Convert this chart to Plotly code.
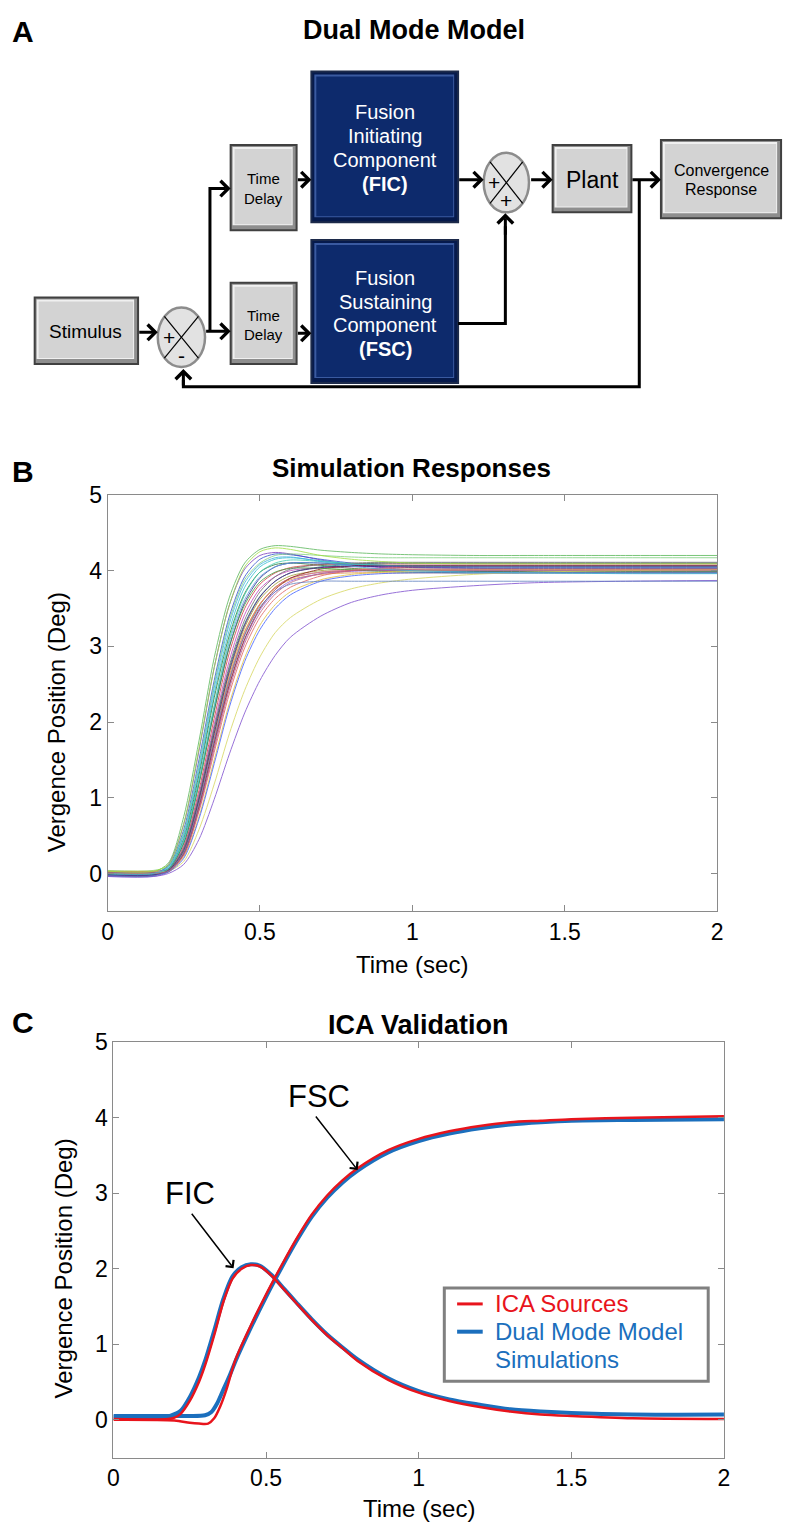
import plotly.graph_objects as go

# The page body has an 8px default margin, so the figure is sized to fill the window after it.
OFF = 8
W, H = 792 - OFF, 1527 - OFF
FONT = "Liberation Sans, Arial, Helvetica, sans-serif"

# ---------------- Panel B data: simulation responses ----------------
B_TIME = [0, 0.15, 0.2, 0.25, 0.3, 0.35, 0.4, 0.45, 0.5, 0.55, 0.6, 0.7, 0.8, 0.9, 1.0, 1.2, 1.4, 1.7, 2.0]
B_C01 = [0.02, 0.02, 0.14, 0.75, 1.75, 2.85, 3.65, 4.10, 4.28, 4.33, 4.32, 4.27, 4.24, 4.22, 4.21, 4.20, 4.20, 4.20, 4.20]
B_C02 = [-0.02, -0.02, 0.12, 0.65, 1.62, 2.72, 3.55, 4.02, 4.20, 4.24, 4.22, 4.14, 4.08, 4.04, 4.01, 3.99, 3.98, 3.98, 3.98]
B_C03 = [0.00, 0.00, 0.10, 0.58, 1.50, 2.55, 3.40, 3.92, 4.15, 4.22, 4.21, 4.15, 4.10, 4.07, 4.05, 4.04, 4.04, 4.04, 4.04]
B_C04 = [0.01, 0.01, 0.09, 0.50, 1.35, 2.38, 3.22, 3.78, 4.05, 4.15, 4.17, 4.13, 4.09, 4.07, 4.06, 4.06, 4.06, 4.06, 4.06]
B_C05 = [-0.03, -0.03, 0.06, 0.46, 1.30, 2.32, 3.15, 3.70, 3.98, 4.08, 4.10, 4.07, 4.03, 4.01, 4.00, 3.99, 3.99, 3.99, 3.99]
B_C06 = [0.03, 0.03, 0.06, 0.36, 1.10, 2.05, 2.92, 3.50, 3.82, 3.97, 4.04, 4.08, 4.09, 4.09, 4.09, 4.09, 4.09, 4.09, 4.09]
B_C07 = [0.00, 0.00, 0.05, 0.34, 1.05, 1.97, 2.82, 3.42, 3.76, 3.92, 4.00, 4.04, 4.05, 4.05, 4.05, 4.05, 4.05, 4.05, 4.05]
B_C08 = [-0.01, -0.01, 0.04, 0.30, 0.98, 1.85, 2.66, 3.25, 3.62, 3.82, 3.93, 4.00, 4.02, 4.02, 4.02, 4.02, 4.02, 4.02, 4.02]
B_C09 = [0.02, 0.02, 0.05, 0.32, 1.00, 1.90, 2.72, 3.30, 3.66, 3.86, 3.97, 4.05, 4.08, 4.10, 4.10, 4.10, 4.10, 4.10, 4.10]
B_C10 = [-0.02, -0.02, 0.03, 0.27, 0.90, 1.75, 2.55, 3.15, 3.55, 3.78, 3.90, 3.98, 4.00, 4.00, 4.00, 4.00, 4.00, 4.00, 4.00]
B_C11 = [0.04, 0.04, 0.10, 0.55, 1.45, 2.50, 3.35, 3.88, 4.10, 4.20, 4.22, 4.20, 4.18, 4.17, 4.17, 4.17, 4.17, 4.17, 4.17]
B_C12 = [-0.01, -0.01, 0.06, 0.40, 1.20, 2.15, 3.00, 3.58, 3.90, 4.05, 4.10, 4.10, 4.07, 4.05, 4.04, 4.03, 4.03, 4.03, 4.03]
B_C13 = [0.01, 0.01, 0.04, 0.28, 0.92, 1.78, 2.58, 3.18, 3.56, 3.78, 3.90, 3.98, 4.01, 4.02, 4.02, 4.02, 4.02, 4.02, 4.02]
B_C14 = [0.00, 0.00, 0.04, 0.30, 0.95, 1.82, 2.62, 3.20, 3.56, 3.77, 3.88, 3.95, 3.97, 3.97, 3.97, 3.97, 3.97, 3.97, 3.97]
B_C15 = [-0.04, -0.04, 0.02, 0.25, 0.85, 1.68, 2.48, 3.08, 3.48, 3.72, 3.86, 3.96, 3.99, 4.00, 4.00, 4.00, 4.00, 4.00, 4.00]
B_C16 = [0.02, 0.02, 0.07, 0.44, 1.22, 2.20, 3.06, 3.62, 3.92, 4.05, 4.10, 4.10, 4.08, 4.07, 4.06, 4.06, 4.06, 4.06, 4.06]
B_C17 = [-0.01, -0.01, 0.03, 0.26, 0.88, 1.72, 2.50, 3.10, 3.50, 3.75, 3.90, 4.02, 4.06, 4.07, 4.07, 4.07, 4.07, 4.07, 4.07]
B_C18 = [0.00, 0.00, 0.06, 0.40, 1.18, 2.15, 3.00, 3.55, 3.85, 3.98, 4.03, 4.03, 4.01, 3.99, 3.98, 3.97, 3.97, 3.97, 3.97]
B_C19 = [0.01, 0.01, 0.05, 0.33, 1.02, 1.92, 2.75, 3.35, 3.72, 3.92, 4.02, 4.08, 4.10, 4.11, 4.11, 4.11, 4.11, 4.11, 4.11]
B_C20 = [-0.04, -0.04, 0.00, 0.12, 0.45, 0.98, 1.58, 2.12, 2.55, 2.88, 3.12, 3.40, 3.58, 3.68, 3.74, 3.80, 3.84, 3.86, 3.87]
B_C21 = [0.03, 0.03, 0.03, 0.16, 0.58, 1.18, 1.85, 2.42, 2.86, 3.18, 3.38, 3.62, 3.76, 3.84, 3.89, 3.95, 3.98, 4.00, 4.01]
B_C22 = [0.00, 0.00, 0.02, 0.22, 0.75, 1.50, 2.25, 2.85, 3.28, 3.55, 3.72, 3.88, 3.95, 3.98, 4.00, 4.01, 4.01, 4.01, 4.01]
B_C23 = [-0.02, -0.02, 0.02, 0.20, 0.72, 1.45, 2.20, 2.80, 3.22, 3.50, 3.68, 3.86, 3.93, 3.96, 3.97, 3.97, 3.97, 3.97, 3.97]
B_C24 = [0.02, 0.02, 0.03, 0.24, 0.82, 1.60, 2.38, 2.98, 3.38, 3.63, 3.78, 3.93, 4.00, 4.03, 4.05, 4.06, 4.06, 4.06, 4.06]
B_C25 = [-0.01, -0.01, 0.06, 0.43, 1.23, 2.22, 3.10, 3.68, 3.98, 4.10, 4.14, 4.12, 4.09, 4.07, 4.06, 4.05, 4.05, 4.05, 4.05]
B_C26 = [0.03, 0.03, 0.12, 0.66, 1.65, 2.72, 3.55, 4.05, 4.25, 4.30, 4.28, 4.20, 4.15, 4.12, 4.10, 4.09, 4.09, 4.09, 4.09]
B_C27 = [-0.02, -0.02, 0.04, 0.30, 0.97, 1.85, 2.68, 3.28, 3.65, 3.86, 3.97, 4.04, 4.06, 4.06, 4.06, 4.06, 4.06, 4.06, 4.06]
B_C28 = [0.00, 0.00, 0.03, 0.25, 0.85, 1.65, 2.44, 3.04, 3.44, 3.69, 3.84, 3.96, 4.00, 4.01, 4.01, 4.01, 4.01, 4.01, 4.01]
B_C29 = [-0.03, -0.03, 0.03, 0.28, 0.92, 1.77, 2.57, 3.15, 3.52, 3.72, 3.82, 3.86, 3.86, 3.86, 3.86, 3.86, 3.86, 3.86, 3.86]
B_C30 = [0.00, 0.00, 0.08, 0.52, 1.40, 2.45, 3.30, 3.84, 4.08, 4.17, 4.18, 4.12, 4.06, 4.02, 4.00, 3.98, 3.97, 3.96, 3.96]
B_CURVES = [B_C01, B_C02, B_C03, B_C04, B_C05, B_C06, B_C07, B_C08, B_C09, B_C10,
            B_C11, B_C12, B_C13, B_C14, B_C15, B_C16, B_C17, B_C18, B_C19, B_C20,
            B_C21, B_C22, B_C23, B_C24, B_C25, B_C26, B_C27, B_C28, B_C29, B_C30]
B_COLORS = ["#5cb85c", "#7b3fbf", "#3050d0", "#30c0d0", "#2a7a3a", "#d04040", "#c040c0", "#a0a030",
            "#208080", "#a05a2c", "#80d080", "#2a2a90", "#e080a0", "#e09040", "#9060e0", "#60a0e0",
            "#902020", "#40a040", "#707070", "#8050d0", "#d8d860", "#e0c040", "#4060ff", "#e06060",
            "#40d0b0", "#a0e040", "#502080", "#c06080", "#6080c0", "#40b0e0"]

# ---------------- Panel C data: ICA validation ----------------
FIC_ICA_T = [0, 0.18, 0.2, 0.22, 0.25, 0.28, 0.3, 0.33, 0.36, 0.39, 0.42, 0.45, 0.48, 0.52, 0.56, 0.6,
             0.65, 0.7, 0.75, 0.8, 0.9, 1.0, 1.1, 1.2, 1.3, 1.4, 1.5, 1.7, 2.0]
FIC_ICA_V = [0.01, 0.01, 0.03, 0.08, 0.25, 0.50, 0.72, 1.12, 1.56, 1.87, 2.00, 2.05, 2.03, 1.90, 1.72, 1.54,
             1.32, 1.12, 0.95, 0.78, 0.53, 0.36, 0.25, 0.17, 0.11, 0.07, 0.05, 0.02, 0.01]
FIC_SIM_T = [0, 0.17, 0.19, 0.22, 0.25, 0.28, 0.3, 0.33, 0.36, 0.39, 0.42, 0.45, 0.48, 0.52, 0.56, 0.6,
             0.65, 0.7, 0.75, 0.8, 0.9, 1.0, 1.1, 1.2, 1.3, 1.4, 1.5, 1.7, 2.0]
FIC_SIM_V = [0.04, 0.04, 0.06, 0.12, 0.30, 0.56, 0.78, 1.18, 1.60, 1.90, 2.02, 2.06, 2.04, 1.91, 1.73, 1.55,
             1.33, 1.13, 0.96, 0.80, 0.55, 0.38, 0.27, 0.20, 0.14, 0.11, 0.09, 0.07, 0.07]
FSC_ICA_T = [0, 0.2, 0.25, 0.28, 0.31, 0.33, 0.35, 0.37, 0.4, 0.45, 0.5, 0.55, 0.6, 0.65, 0.7, 0.75,
             0.8, 0.9, 1.0, 1.1, 1.2, 1.3, 1.4, 1.5, 1.7, 2.0]
FSC_ICA_V = [0.00, -0.01, -0.04, -0.05, -0.05, 0.02, 0.18, 0.40, 0.80, 1.25, 1.66, 2.04, 2.40, 2.72, 2.97, 3.17,
             3.33, 3.57, 3.72, 3.82, 3.89, 3.94, 3.96, 3.98, 4.00, 4.02]
FSC_SIM_T = [0, 0.2, 0.25, 0.3, 0.32, 0.34, 0.36, 0.38, 0.4, 0.45, 0.5, 0.55, 0.6, 0.65, 0.7, 0.75,
             0.8, 0.9, 1.0, 1.1, 1.2, 1.3, 1.4, 1.5, 1.7, 2.0]
FSC_SIM_V = [0.05, 0.05, 0.05, 0.06, 0.10, 0.22, 0.40, 0.58, 0.78, 1.22, 1.63, 2.01, 2.37, 2.69, 2.94, 3.14,
             3.30, 3.54, 3.69, 3.79, 3.86, 3.91, 3.94, 3.96, 3.97, 3.98]

X_TICKS = [0, 0.5, 1, 1.5, 2]
X_TICKTEXT = ["0", "0.5", "1", "1.5", "2"]
Y_TICKS = [0, 1, 2, 3, 4, 5]
LEGEND_NAMES = ["ICA Sources", "Dual Mode Model", "Simulations"]
RED = "#e8141c"
BLUE = "#1b6fbd"


def px(x):
    return (x - OFF) / W


def py(y):
    return 1 - (y - OFF) / H


fig = go.Figure()

for vals, col in zip(B_CURVES, B_COLORS):
    fig.add_trace(go.Scatter(x=B_TIME, y=vals, mode="lines", xaxis="x", yaxis="y",
                             line=dict(color=col, width=1, shape="spline", smoothing=0.8),
                             opacity=0.8, showlegend=False, hoverinfo="skip"))

for t, v in [(FIC_SIM_T, FIC_SIM_V), (FSC_SIM_T, FSC_SIM_V)]:
    fig.add_trace(go.Scatter(x=t, y=v, mode="lines", xaxis="x2", yaxis="y2",
                             line=dict(color=BLUE, width=4, shape="spline", smoothing=0.8),
                             showlegend=False))
for t, v in [(FIC_ICA_T, FIC_ICA_V), (FSC_ICA_T, FSC_ICA_V)]:
    fig.add_trace(go.Scatter(x=t, y=v, mode="lines", xaxis="x2", yaxis="y2",
                             line=dict(color=RED, width=2.5, shape="spline", smoothing=0.8),
                             showlegend=False))

axis_common = dict(showgrid=False, zeroline=False, showline=True, linecolor="#8a8a8a", linewidth=1,
                   mirror="ticks", ticks="inside", ticklen=6, tickcolor="#8a8a8a",
                   tickfont=dict(family=FONT, size=23, color="black"), fixedrange=True)

fig.update_layout(
    width=W, height=H, margin=dict(l=0, r=0, t=0, b=0),
    paper_bgcolor="white", plot_bgcolor="white", showlegend=False,
    xaxis=dict(domain=[px(103), px(722)], range=[0, 2], tickvals=X_TICKS, ticktext=X_TICKTEXT,
               anchor="y", **axis_common),
    yaxis=dict(domain=[py(906), py(486)], range=[-0.5, 5], tickvals=Y_TICKS, anchor="x", **axis_common),
    xaxis2=dict(domain=[px(109), px(729)], range=[0, 2], tickvals=X_TICKS, ticktext=X_TICKTEXT,
                anchor="y2", **axis_common),
    yaxis2=dict(domain=[py(1457), py(1038)], range=[-0.5, 5], tickvals=Y_TICKS, anchor="x2", **axis_common),
)

shapes = []
ann = []


def text(x, y, s, size, color="black", bold=False, angle=0, xanchor="center"):
    if bold:
        s = "<b>%s</b>" % s
    ann.append(dict(x=px(x), y=py(y), xref="paper", yref="paper", text=s, showarrow=False,
                    xanchor=xanchor, yanchor="middle", textangle=angle,
                    font=dict(family=FONT, size=size, color=color)))


def rect(x0, y0, x1, y1, fill, line_color=None, lw=0):
    shapes.append(dict(type="rect", xref="paper", yref="paper", x0=px(x0), x1=px(x1), y0=py(y1), y1=py(y0),
                       fillcolor=fill, line=dict(color=line_color or fill, width=lw)))


def gray_box(x0, y0, x1, y1):
    rect(x0, y0, x1, y1, "#8e8e8e", "#404040", 2)
    rect(x0 + 2, y0 + 2, x1 - 4, y1 - 5, "#f0f0f0")
    rect(x0 + 4, y0 + 4, x1 - 5, y1 - 6, "#d3d3d3")


def blue_box(x0, y0, x1, y1):
    rect(x0, y0, x1, y1, "#061a4c", "#1c2a4a", 2)
    rect(x0 + 3, y0 + 3, x1 - 4, y1 - 5, "#3a5aa0")
    rect(x0 + 5, y0 + 5, x1 - 5, y1 - 6, "#0d2a6c")


def junction(cx, cy, rx, ry, s1, s2):
    shapes.append(dict(type="circle", xref="paper", yref="paper", x0=px(cx - rx), x1=px(cx + rx),
                       y0=py(cy + ry), y1=py(cy - ry), fillcolor="#e2e2e2", line=dict(color="#8c8c8c", width=2.5)))
    dx, dy = rx * 0.72, ry * 0.70
    shapes.append(dict(type="line", xref="paper", yref="paper", x0=px(cx - dx), y0=py(cy - dy),
                       x1=px(cx + dx), y1=py(cy + dy), line=dict(color="black", width=1.2)))
    shapes.append(dict(type="line", xref="paper", yref="paper", x0=px(cx - dx), y0=py(cy + dy),
                       x1=px(cx + dx), y1=py(cy - dy), line=dict(color="black", width=1.2)))
    text(cx - 13, cy, s1, 21)
    text(cx, cy + 18, s2, 21)


def poly(points, width=3, color="black"):
    d = "M " + " L ".join("%f,%f" % (px(x), py(y)) for x, y in points)
    shapes.append(dict(type="path", xref="paper", yref="paper", path=d,
                       line=dict(color=color, width=width)))


def arrow(x_tail, y_tail, x_tip, y_tip, width=3, size=1.0):
    ann.append(dict(x=px(x_tip), y=py(y_tip), xref="paper", yref="paper", ax=x_tail - x_tip, ay=y_tail - y_tip,
                    axref="pixel", ayref="pixel", text="", showarrow=True, arrowhead=4,
                    arrowsize=size, arrowwidth=width, arrowcolor="black"))


# ---------------- Panel A: block diagram ----------------
gray_box(29, 287, 134, 354)
text(81, 321, "Stimulus", 19)
junction(178, 327, 24, 30, "+", "-")
gray_box(228, 133, 295, 219)
text(261, 167, "Time", 15)
text(261, 187, "Delay", 15)
gray_box(228, 272, 295, 354)
text(261, 305, "Time", 15)
text(261, 324, "Delay", 15)
blue_box(310, 59, 459, 211)
for i, s in enumerate(["Fusion", "Initiating", "Component"]):
    text(385, 100 + 24 * i, s, 20, color="white")
text(385, 172, "(FIC)", 20, color="white", bold=True)
blue_box(310, 229, 459, 373)
for i, s in enumerate(["Fusion", "Sustaining", "Component"]):
    text(385, 267 + 24 * i, s, 20, color="white")
text(385, 339, "(FSC)", 20, color="white", bold=True)
junction(508, 171, 23, 30, "+", "+")
gray_box(555, 133, 635, 201)
text(595, 168, "Plant", 23)
gray_box(665, 128, 787, 207)
text(726, 159, "Convergence", 16)
text(726, 178, "Response", 16)

# connectors
poly([(207, 321), (207, 177), (214, 177)])
poly([(459, 313), (507, 313), (507, 215)])
poly([(643, 168), (643, 377), (180, 377), (180, 370)])
# arrows
arrow(134, 322, 154, 322)
arrow(202, 321, 228, 321)
arrow(207, 177, 228, 177)
arrow(295, 168, 310, 168)
arrow(295, 323, 310, 323)
arrow(459, 168, 485, 168)
arrow(532, 168, 555, 168)
arrow(635, 168, 665, 168)
arrow(507, 225, 507, 202)
arrow(180, 377, 180, 359)

# ---------------- titles and labels ----------------
text(17, 19, "A", 30, bold=True)
text(17, 462, "B", 30, bold=True)
text(17, 1018, "C", 30, bold=True)
text(414, 17, "Dual Mode Model", 27, bold=True)
text(412, 459, "Simulation Responses", 26, bold=True)
text(419, 1021, "ICA Validation", 27, bold=True)

text(52, 715, "Vergence Position (Deg)", 24, angle=-90)
text(412, 960, "Time (sec)", 24)
text(58, 1266, "Vergence Position (Deg)", 24, angle=-90)
text(419, 1508, "Time (sec)", 24)

# FIC / FSC annotations
text(187, 1191, "FIC", 31)
text(318, 1093, "FSC", 31)
arrow(188, 1210, 231, 1266, width=1.5, size=1.3)
arrow(314, 1112, 357, 1167, width=1.5, size=1.3)

# legend for panel C
rect(445, 1286, 713, 1380, "white", "#808080", 3)
poly([(458, 1302), (484, 1302)], width=3, color=RED)
poly([(458, 1330), (484, 1330)], width=4, color=BLUE)
text(494, 1302, LEGEND_NAMES[0], 24, color=RED, xanchor="left")
text(494, 1330, LEGEND_NAMES[1], 24, color=BLUE, xanchor="left")
text(494, 1358, LEGEND_NAMES[2], 24, color=BLUE, xanchor="left")

fig.update_layout(shapes=shapes, annotations=ann)
fig.write_html("out.html")
